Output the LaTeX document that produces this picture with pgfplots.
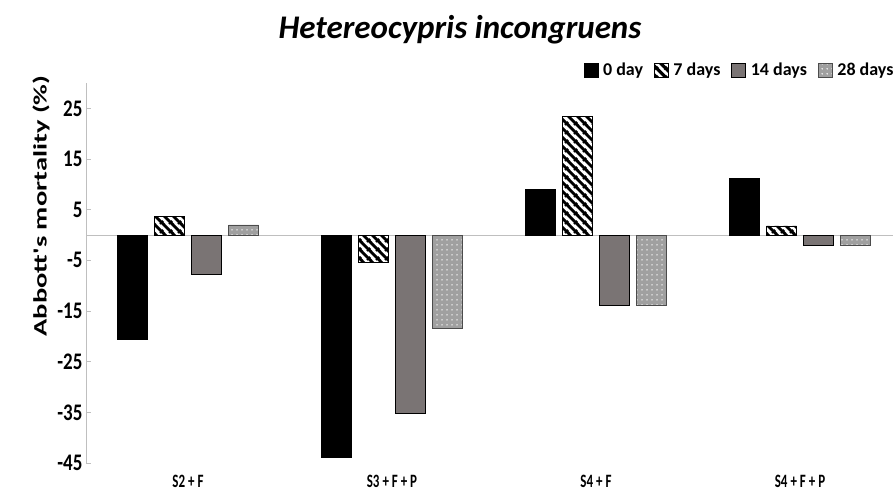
\documentclass[border=0pt]{standalone}
\usepackage{pgfplots}
\pgfplotsset{compat=1.18}
\usepackage{fontspec}
\setmainfont{Carlito}
\usetikzlibrary{patterns.meta}
\definecolor{greybar}{HTML}{7A7474}
\definecolor{dotbar}{HTML}{A0A0A0}
\definecolor{axgrey}{HTML}{BFBFBF}
\tikzdeclarepattern{name=thickstripes, type=uncolored,
  bottom left={(0pt,0pt)}, top right={(9pt,9pt)}, tile size={(9pt,9pt)},
  code={\draw[line width=3.3pt] (-1pt,10pt) -- (10pt,-1pt);
        \draw[line width=3.3pt] (-1pt,1pt) -- (1pt,-1pt);
        \draw[line width=3.3pt] (8pt,10pt) -- (10pt,8pt);}}
\tikzdeclarepattern{name=whitedots, type=uncolored,
  bottom left={(0pt,0pt)}, top right={(5pt,5pt)}, tile size={(5pt,5pt)},
  code={\fill (2.5pt,2.5pt) circle (0.9pt);}}
\pgfplotstableread{
x v0 v7 v14 v28
0 -20.5 3.7 -7.7 2.0
1 -43.9 -5.3 -35.2 -18.4
2 9.0 23.4 -13.9 -13.9
3 11.2 1.8 -2.0 -2.0
}\datatable
\newcommand{\xlab}[1]{\scalebox{1}[1.45]{#1}}
\begin{document}
\begin{tikzpicture}
\path[use as bounding box] (0,0) rectangle (893pt,491pt);
\clip (0,0) rectangle (893pt,491pt);
\node[font=\fontsize{33}{38}\selectfont\bfseries\itshape] at (460pt,461pt) {Hetereocypris incongruens};
\begin{axis}[
  at={(86pt,28pt)}, anchor=south west,
  scale only axis, width=816pt, height=380pt,
  xmin=-0.5, xmax=3.5, ymin=-45, ymax=30,
  ybar=7pt, bar width=30pt,
  axis y line*=left, axis x line=none,
  y axis line style={axgrey, line width=0.8pt},
  ytick={-45,-35,...,25},
  tick align=inside, major tick length=5pt,
  ytick style={axgrey, line width=0.8pt},
  yticklabel={\scalebox{1}[1.25]{\pgfmathprintnumber{\tick}}},
  yticklabel style={font=\fontsize{19}{22}\selectfont\bfseries, xshift=0pt},
  /pgf/number format/assume math mode=true,
  ylabel={\scalebox{1.5}[1]{Abbott\textquotesingle s mortality (\%)}},
  ylabel style={font=\fontsize{19}{22}\selectfont\bfseries, xshift=67pt, yshift=1pt},
  clip=false,
  legend columns=4,
  legend style={at={(0.606,1.034)}, anchor=west, draw=none, fill=none,
    font=\fontsize{18}{21}\selectfont\bfseries,
    /tikz/every odd column/.append style={column sep=3pt},
    /tikz/every even column/.append style={column sep=9pt}},
  legend image code/.code={\draw[#1] (0pt,-7pt) rectangle (14pt,7pt);},
]
\draw[axgrey, line width=1pt] (axis cs:-0.5,0) -- (axis cs:3.5,0);
\addplot[draw=black, fill=black] table[x=x, y=v0] {\datatable};
\addplot[draw=black, pattern=thickstripes, pattern color=black] table[x=x, y=v7] {\datatable};
\addplot[draw=black, fill=greybar] table[x=x, y=v14] {\datatable};
\addplot[draw=black!70, fill=dotbar, postaction={pattern=whitedots, pattern color=white}] table[x=x, y=v28] {\datatable};
\legend{0 day, 7 days, 14 days, 28 days}
\node[font=\fontsize{13}{15}\selectfont\bfseries] at (axis cs:0,-48.6) {\xlab{S2 + F}};
\node[font=\fontsize{13}{15}\selectfont\bfseries] at (axis cs:1,-48.6) {\xlab{S3 + F + P}};
\node[font=\fontsize{13}{15}\selectfont\bfseries] at (axis cs:2,-48.6) {\xlab{S4 + F}};
\node[font=\fontsize{13}{15}\selectfont\bfseries] at (axis cs:3,-48.6) {\xlab{S4 + F + P}};
\end{axis}
\end{tikzpicture}
\end{document}
